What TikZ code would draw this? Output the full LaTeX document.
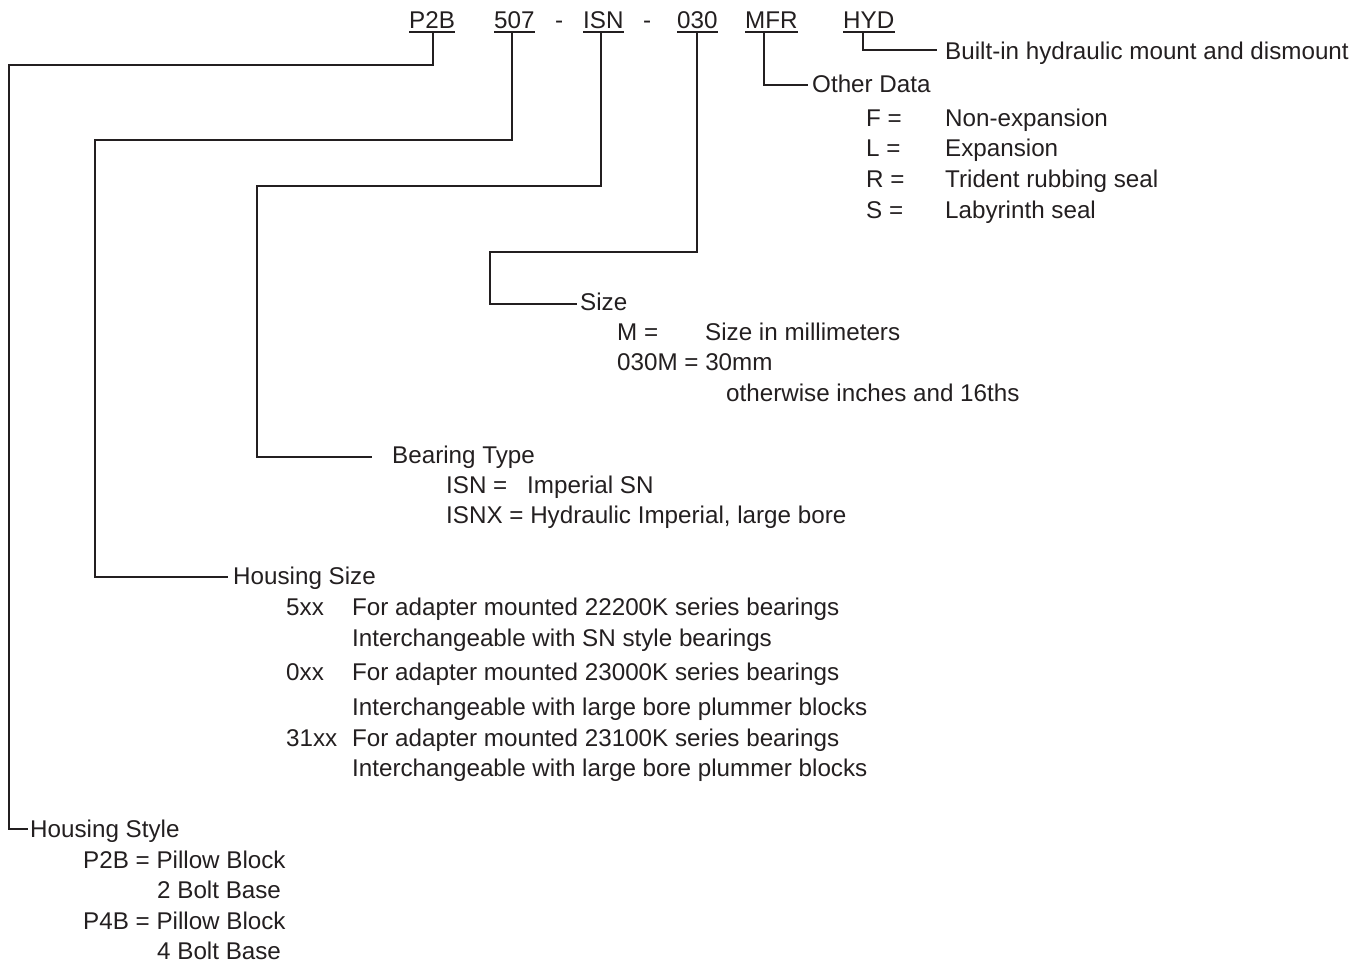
\documentclass[tikz,border=0pt]{standalone}
\usepackage{fontspec}
\setmainfont{Liberation Sans}
\definecolor{ink}{HTML}{231F20}
\begin{document}
\begin{tikzpicture}[x=1pt,y=-1pt,
  txt/.style={anchor=base west, inner sep=0pt, font=\fontsize{24.2}{29}\selectfont, text=ink},
  ln/.style={draw=ink, line width=1.4pt, line join=miter}]
\useasboundingbox (0,0) rectangle (1369,964);
% code row
\node[txt] (cP) at (409,28.5) {P2B};
\node[txt] (c5) at (494,28.5) {507};
\node[txt] (d1) at (555,28.5) {-};
\node[txt] (cI) at (583,28.5) {ISN};
\node[txt] (d2) at (643,28.5) {-};
\node[txt] (c0) at (677,28.5) {030};
\node[txt] (cM) at (745,28.5) {MFR};
\node[txt] (cH) at (843,28.5) {HYD};
\foreach \n in {cP,c5,cI,c0,cM,cH}
  \draw[ln] ([yshift=-3.5pt]\n.base west) -- ([yshift=-3.5pt]\n.base east);
% labels
\node[txt] (hyd) at (945,59) {Built-in hydraulic mount and dismount};
\node[txt] (od) at (812,92) {Other Data};
\node[txt] (f1) at (866,126) {F =};
\node[txt] (f1d) at (945,126) {Non-expansion};
\node[txt] (f2) at (866,156) {L =};
\node[txt] (f2d) at (945,156) {Expansion};
\node[txt] (f3) at (866,187) {R =};
\node[txt] (f3d) at (945,187) {Trident rubbing seal};
\node[txt] (f4) at (866,218) {S =};
\node[txt] (f4d) at (945,218) {Labyrinth seal};
\node[txt] (sz) at (580,310) {Size};
\node[txt] (s1) at (617,340) {M =};
\node[txt] (s1d) at (705,340) {Size in millimeters};
\node[txt] (s2) at (617,370) {030M = 30mm};
\node[txt] (s3) at (726,401) {otherwise inches and 16ths};
\node[txt] (bt) at (392,463) {Bearing Type};
\node[txt] (b1) at (446,493) {ISN =};
\node[txt] (b1d) at (527,493) {Imperial SN};
\node[txt] (b2) at (446,523) {ISNX = Hydraulic Imperial, large bore};
\node[txt] (hs) at (233,584) {Housing Size};
\node[txt] (h1) at (286,615) {5xx};
\node[txt] (h1d) at (352,615) {For adapter mounted 22200K series bearings};
\node[txt] (h1e) at (352,646) {Interchangeable with SN style bearings};
\node[txt] (h2) at (286,680) {0xx};
\node[txt] (h2d) at (352,680) {For adapter mounted 23000K series bearings};
\node[txt] (h2e) at (352,715) {Interchangeable with large bore plummer blocks};
\node[txt] (h3) at (286,746) {31xx};
\node[txt] (h3d) at (352,746) {For adapter mounted 23100K series bearings};
\node[txt] (h3e) at (352,776) {Interchangeable with large bore plummer blocks};
\node[txt] (st) at (30,837) {Housing Style};
\node[txt] (p1) at (83,868) {P2B = Pillow Block};
\node[txt] (p1d) at (157,898) {2 Bolt Base};
\node[txt] (p2) at (83,929) {P4B = Pillow Block};
\node[txt] (p2d) at (157,959) {4 Bolt Base};
% connector corners
\coordinate (kP1) at (433,65);  \coordinate (kP2) at (9,65);   \coordinate (eP) at (28,829);
\coordinate (k51) at (512,140); \coordinate (k52) at (95,140); \coordinate (e5) at (228,577);
\coordinate (kI1) at (601,186); \coordinate (kI2) at (257,186); \coordinate (eI) at (372,457);
\coordinate (k01) at (697,252); \coordinate (k02) at (490,252); \coordinate (e0) at (577,304);
\coordinate (kM1) at (764,85);  \coordinate (eM) at (808,85);
\coordinate (kH1) at (863,50);  \coordinate (eH) at (937,50);
% connectors
\draw[ln] ([yshift=-3.5pt]cP.base -| kP1) -- (kP1) -- (kP2) |- (eP);
\draw[ln] ([yshift=-3.5pt]c5.base -| k51) -- (k51) -- (k52) |- (e5);
\draw[ln] ([yshift=-3.5pt]cI.base -| kI1) -- (kI1) -- (kI2) |- (eI);
\draw[ln] ([yshift=-3.5pt]c0.base -| k01) -- (k01) -- (k02) |- (e0);
\draw[ln] ([yshift=-3.5pt]cM.base -| kM1) |- (eM);
\draw[ln] ([yshift=-3.5pt]cH.base -| kH1) |- (eH);
\end{tikzpicture}
\end{document}
